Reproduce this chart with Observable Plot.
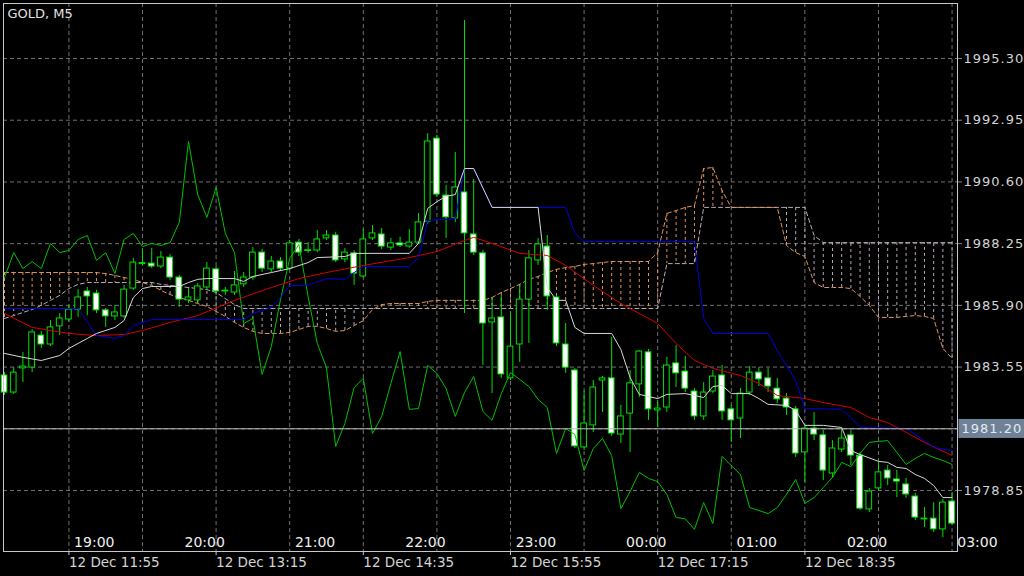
<!DOCTYPE html>
<html><head><meta charset="utf-8">
<script src="https://cdn.jsdelivr.net/npm/d3@7"></script>
<script src="https://cdn.jsdelivr.net/npm/@observablehq/plot@0.6"></script>
<style>
html,body{margin:0;padding:0;background:#000;}
g[aria-label="y-axis tick label"] text{letter-spacing:1px;}
</style>
</head><body><div id="chart"></div>
<script>
const title = "GOLD, M5";
const open = [1983.23,1982.58,1983.50,1983.53,1984.75,1984.41,1985.10,1985.36,1985.74,1986.43,1986.35,1985.71,1985.48,1985.48,1986.54,1987.47,1987.49,1987.38,1987.72,1986.96,1986.09,1986.09,1986.58,1987.27,1986.43,1986.39,1986.70,1986.96,1987.91,1987.27,1987.57,1987.30,1988.29,1987.97,1987.99,1988.45,1988.56,1987.65,1987.88,1987.00,1988.45,1988.60,1988.10,1988.26,1988.14,1988.29,1989.09,1992.25,1990.08,1989.21,1990.20,1988.60,1987.88,1985.25,1985.44,1983.12,1984.41,1986.12,1987.61,1988.14,1986.20,1984.41,1983.42,1980.49,1981.33,1983.04,1983.12,1980.98,1981.78,1982.89,1984.11,1981.90,1982.01,1983.69,1983.38,1982.62,1981.67,1982.62,1983.23,1981.94,1981.59,1982.58,1983.34,1983.12,1982.73,1982.35,1981.94,1980.30,1981.21,1980.95,1979.50,1980.41,1980.95,1980.18,1978.13,1978.93,1979.61,1979.27,1979.08,1978.62,1977.75,1977.78,1977.37,1978.43];
const high = [1983.34,1983.53,1984.11,1984.98,1984.91,1985.32,1985.59,1985.90,1986.50,1986.58,1986.47,1985.78,1985.90,1986.66,1987.69,1988.03,1988.07,1987.95,1987.84,1987.04,1986.54,1986.73,1987.53,1987.38,1986.58,1987.19,1987.15,1988.10,1988.03,1987.76,1987.72,1988.37,1988.41,1988.29,1988.75,1988.75,1988.68,1988.07,1987.99,1988.79,1988.94,1988.83,1988.45,1988.49,1988.79,1989.40,1992.44,1992.37,1990.47,1991.72,1996.75,1990.69,1987.99,1986.20,1986.28,1985.63,1986.66,1987.99,1988.45,1988.56,1986.28,1985.21,1983.50,1982.62,1983.04,1983.19,1984.68,1982.09,1983.42,1984.18,1984.22,1982.28,1983.92,1984.37,1983.95,1982.73,1982.96,1983.42,1983.61,1982.09,1982.73,1983.57,1983.53,1983.50,1983.12,1982.54,1982.05,1981.33,1981.82,1981.14,1980.75,1981.21,1981.14,1980.30,1978.93,1979.92,1979.80,1979.61,1979.31,1978.74,1978.20,1978.39,1978.51,1978.77];
const low = [1982.47,1982.51,1982.96,1983.34,1984.26,1984.33,1984.75,1985.25,1985.44,1985.51,1985.59,1985.06,1985.32,1985.40,1986.47,1987.42,1987.30,1987.30,1986.85,1985.82,1985.97,1985.97,1986.47,1986.28,1986.28,1986.28,1986.58,1986.85,1987.15,1987.15,1987.19,1987.23,1987.76,1987.88,1987.91,1988.37,1987.53,1987.53,1986.66,1986.92,1988.37,1988.03,1987.99,1988.10,1988.07,1988.22,1988.98,1990.01,1988.45,1989.06,1985.59,1987.80,1983.61,1982.54,1983.12,1983.04,1983.73,1984.45,1987.42,1985.71,1984.33,1983.31,1980.45,1980.37,1981.06,1981.82,1980.91,1980.64,1980.30,1982.39,1981.52,1981.25,1981.82,1982.77,1982.58,1981.52,1981.52,1982.54,1981.52,1980.68,1980.83,1982.47,1982.81,1982.58,1982.16,1981.71,1980.11,1979.16,1980.75,1979.23,1979.31,1980.30,1979.80,1978.09,1978.01,1978.85,1979.04,1978.58,1978.55,1977.71,1977.44,1977.25,1977.06,1977.52];
const close = [1982.58,1983.34,1983.57,1984.87,1984.41,1985.06,1985.40,1985.74,1986.20,1986.24,1985.71,1985.48,1985.63,1986.50,1987.53,1987.51,1987.38,1987.72,1986.96,1986.12,1986.20,1986.62,1987.30,1986.43,1986.45,1986.66,1986.96,1987.91,1987.30,1987.57,1987.30,1988.26,1987.91,1987.99,1988.41,1988.56,1987.61,1987.91,1987.11,1988.41,1988.64,1988.14,1988.26,1988.18,1988.29,1989.06,1992.14,1990.12,1989.25,1990.39,1988.64,1987.91,1985.21,1985.40,1983.27,1984.33,1986.12,1987.69,1988.22,1986.24,1984.45,1983.53,1980.53,1981.40,1982.77,1983.12,1981.02,1981.67,1982.93,1984.14,1981.94,1981.97,1983.61,1983.31,1982.73,1981.67,1982.58,1983.19,1981.86,1981.52,1982.54,1983.34,1983.08,1982.81,1982.32,1982.01,1980.26,1981.21,1980.98,1979.61,1980.45,1980.83,1980.18,1978.16,1978.81,1979.54,1979.31,1979.19,1978.70,1977.82,1977.77,1977.37,1978.39,1977.59];
// closes of the 26 bars after the visible window (end of the lagging span)
const chikouTail = [1980.15,1979.80,1979.46,1978.20,1978.09,1977.97,1978.20,1978.70,1979.27,1978.36,1978.58,1978.96,1979.35,1979.92,1979.76,1980.26,1980.68,1980.72,1980.75,1980.30,1979.84,1980.07,1980.26,1980.11,1979.99,1979.84];
const spanA = [1987.15,1987.15,1987.15,1987.15,1987.15,1987.15,1987.15,1987.15,1987.15,1987.15,1987.15,1987.11,1987.04,1986.96,1986.89,1986.77,1986.66,1986.47,1986.31,1986.20,1986.09,1985.97,1985.86,1985.67,1985.48,1985.25,1985.06,1984.91,1984.83,1984.83,1984.83,1984.87,1984.98,1985.10,1985.10,1985.02,1984.91,1984.94,1985.13,1985.32,1985.74,1985.93,1985.97,1985.97,1985.97,1985.97,1986.05,1986.09,1986.09,1986.09,1986.09,1986.09,1986.09,1986.20,1986.39,1986.54,1986.70,1986.89,1987.00,1987.15,1987.27,1987.34,1987.38,1987.46,1987.49,1987.53,1987.57,1987.57,1987.57,1987.57,1987.57,1987.91,1989.40,1989.51,1989.63,1989.70,1991.11,1991.15,1990.27,1989.63,1989.63,1989.63,1989.63,1989.63,1989.63,1988.18,1987.91,1987.76,1986.77,1986.58,1986.58,1986.58,1986.54,1986.24,1985.90,1985.44,1985.44,1985.44,1985.48,1985.51,1985.48,1985.40,1984.26,1983.88];
const spanB = [1985.40,1985.51,1985.63,1985.74,1985.90,1986.09,1986.28,1986.54,1986.70,1986.77,1986.77,1986.77,1986.77,1986.77,1986.77,1986.77,1986.77,1986.70,1986.66,1986.62,1986.58,1986.54,1986.50,1986.39,1986.16,1985.93,1985.78,1985.78,1985.78,1985.78,1985.78,1985.78,1985.78,1985.78,1985.78,1985.78,1985.78,1985.78,1985.78,1985.78,1985.78,1985.78,1985.78,1985.78,1985.78,1985.78,1985.78,1985.78,1985.78,1985.78,1985.78,1985.78,1985.78,1985.78,1985.78,1985.78,1985.78,1985.78,1985.78,1985.78,1985.78,1985.78,1985.78,1985.78,1985.78,1985.78,1985.78,1985.78,1985.78,1985.78,1985.78,1985.78,1987.49,1987.49,1987.49,1987.49,1989.63,1989.63,1989.63,1989.63,1989.63,1989.63,1989.63,1989.63,1989.63,1989.63,1989.63,1989.63,1988.56,1988.29,1988.29,1988.29,1988.29,1988.29,1988.29,1988.29,1988.29,1988.29,1988.29,1988.29,1988.29,1988.29,1988.29,1988.29];
const maBar = [0,3,7,10,13,15,18,21,25,29,32,35,39,44,47,50,51,53,56,59,61,64,67,71,73,75,77,80,82,84,87,89,92,94,96,98,100,103];
const maVal = [1985.59,1985.06,1984.83,1984.75,1984.79,1984.94,1985.25,1985.51,1986.09,1986.58,1986.92,1987.15,1987.42,1987.72,1987.95,1988.37,1988.49,1988.26,1987.88,1987.80,1987.42,1986.66,1985.97,1985.21,1984.45,1983.80,1983.50,1983.23,1982.93,1982.47,1982.35,1982.20,1982.01,1981.63,1981.44,1981.06,1980.68,1980.18];
const kijunBar = [0,8,10,12,13,14,16,26,27,29,30,31,33,35,37,38,39,44,45,46,49,50,51,53,61,62,63,75,76,77,83,84,86,87,91,92,93,98,100,101,103];
const kijunVal = [1985.78,1985.78,1984.75,1984.64,1984.75,1985.13,1985.36,1985.36,1985.59,1985.82,1986.20,1986.66,1986.66,1986.92,1986.89,1987.15,1987.38,1987.38,1987.72,1989.13,1989.21,1991.11,1991.11,1989.63,1989.63,1988.64,1988.33,1988.33,1985.40,1984.83,1984.83,1984.18,1983.04,1981.97,1981.94,1981.63,1981.25,1981.21,1980.75,1980.49,1980.37];
const tenkanBar = [0,2,4,6,7,9,10,12,13,14,15,16,19,20,21,22,25,26,27,29,31,33,34,37,38,44,45,46,47,48,49,50,51,53,58,59,60,61,62,63,66,67,68,69,71,72,74,75,76,77,78,79,81,82,83,85,86,87,89,91,92,93,95,96,97,98,99,100,101,102,103];
const tenkanVal = [1984.07,1983.92,1983.80,1983.99,1984.26,1984.64,1984.83,1985.06,1985.32,1986.20,1986.54,1986.62,1986.62,1986.77,1986.89,1986.92,1986.92,1986.81,1987.00,1987.15,1987.30,1987.53,1987.72,1987.76,1987.88,1987.88,1988.26,1989.59,1989.85,1990.05,1990.12,1991.11,1991.11,1989.63,1989.63,1986.58,1986.09,1986.09,1985.06,1984.83,1984.83,1984.22,1983.15,1982.51,1982.35,1982.51,1982.54,1982.47,1982.39,1982.81,1982.85,1982.54,1982.54,1982.35,1982.13,1982.09,1981.90,1981.33,1981.33,1981.25,1980.37,1980.22,1979.96,1979.92,1979.73,1979.69,1979.46,1979.31,1979.04,1978.58,1978.58];
const bid = 1981.20;
const priceTicks = [1978.85,1981.20,1983.55,1985.90,1988.25,1990.60,1992.95,1995.30];
const gridBars = [7,15,23,31,39,47,55,63,71,79,87,95,103];
const dateBars = [7,23,39,55,71,87];
const dateLabels = ["12 Dec 11:55","12 Dec 13:15","12 Dec 14:35","12 Dec 15:55","12 Dec 17:15","12 Dec 18:35"];
const hourBars = [8,20,32,44,56,68,80,92,104];
const hourLabels = ["19:00","20:00","21:00","22:00","23:00","00:00","01:00","02:00","03:00"];

const idx = d3.range(close.length);
const candles = idx.map(i => ({i, o: open[i], h: high[i], l: low[i], c: close[i]}));
const chikou = idx.map(i => i + 26 < close.length ? close[i + 26] : chikouTail[i + 26 - close.length]);
const dateMap = new Map(dateBars.map((b, k) => [b, dateLabels[k]]));

const GREEN = "#00e000", LAG = "#00c000", BROWN = "#e0955a", THISTLE = "#b9aab9";
const half = 0.31;

const plot = Plot.plot({
  width: 1024, height: 576,
  marginLeft: 3, marginTop: 3, marginRight: 67, marginBottom: 25,
  x: {type: "linear", domain: [-0.11, 103.59], label: null},
  y: {domain: [1976.527, 1997.395], label: null},
  style: {background: "#000", color: "#d4d4d4", fontFamily: "DejaVu Sans", fontSize: "13px"},
  marks: [
    Plot.gridY(priceTicks, {stroke: "#707070", strokeOpacity: 1, strokeDasharray: "4,3"}),
    Plot.gridX(gridBars, {stroke: "#707070", strokeOpacity: 1, strokeDasharray: "4,3"}),
    Plot.ruleX(idx.filter(i => spanA[i] >= spanB[i]), {x: d => d, y1: d => spanA[d], y2: d => spanB[d], stroke: BROWN, strokeDasharray: "3,3"}),
    Plot.ruleX(idx.filter(i => spanA[i] < spanB[i]), {x: d => d, y1: d => spanA[d], y2: d => spanB[d], stroke: THISTLE, strokeDasharray: "3,3"}),
    Plot.line(idx, {x: d => d, y: d => spanB[d], stroke: THISTLE, strokeWidth: 1, strokeDasharray: "4,3"}),
    Plot.line(idx, {x: d => d, y: d => spanA[d], stroke: BROWN, strokeWidth: 1, strokeDasharray: "4,3"}),
    Plot.ruleX(candles, {x: "i", y1: "l", y2: "h", stroke: GREEN}),
    Plot.rect(candles, {x1: d => d.i - half, x2: d => d.i + half,
      y1: d => Math.min(d.o, d.c), y2: d => Math.max(Math.max(d.o, d.c), Math.min(d.o, d.c) + 0.03),
      fill: d => d.c < d.o ? "#ffffff" : "#000000", stroke: GREEN, strokeWidth: 1}),
    Plot.line(idx, {x: d => d, y: d => chikou[d], stroke: LAG, strokeWidth: 1}),
    Plot.line(maBar, {x: d => d, y: (d, k) => maVal[k], stroke: "#d40000", strokeWidth: 1}),
    Plot.line(kijunBar, {x: d => d, y: (d, k) => kijunVal[k], stroke: "#0000e0", strokeWidth: 1}),
    Plot.line(tenkanBar, {x: d => d, y: (d, k) => tenkanVal[k], stroke: "#d8d8d8", strokeWidth: 1}),
    Plot.ruleY([bid], {stroke: "#bcbcbc", strokeWidth: 1}),
    Plot.frame({stroke: "#c8c8c8"}),
    Plot.axisY({anchor: "right", label: null, ticks: priceTicks.filter(t => t !== bid), tickFormat: d => d.toFixed(2), tickSize: 4, tickPadding: 2, stroke: "#808080", fill: "#d4d4d4", fontSize: 13}),
    Plot.axisX({anchor: "bottom", label: null, ticks: dateBars, tickFormat: d => dateMap.get(d), tickSize: 4, tickPadding: 2, textAnchor: "start", stroke: "#c8c8c8", fill: "#d4d4d4", fontSize: 13.5}),
    Plot.text(hourBars, {x: d => d, text: (d, k) => hourLabels[k], frameAnchor: "bottom", lineAnchor: "bottom", textAnchor: "start", dx: -4, dy: -5, fill: "#f0f0f0", fontSize: 14}),
    Plot.text([title], {text: d => d, frameAnchor: "top-left", lineAnchor: "top", textAnchor: "start", dx: 4, dy: 5, fill: "#e0e0e0", fontSize: 13}),
    Plot.text([bid], {y: d => d, text: d => d.toFixed(2), frameAnchor: "right", textAnchor: "start", dx: 4, fill: "#e4eaf0", fontSize: 13})
  ]
});
document.getElementById("chart").appendChild(plot);

// background box behind the bid price label
const bidLabel = bid.toFixed(2);
d3.select(plot).selectAll("text").filter(function() { return this.textContent === bidLabel; }).each(function() {
  this.setAttribute("letter-spacing", "1px");
  const bb = this.getBBox();
  const r = document.createElementNS("http://www.w3.org/2000/svg", "rect");
  r.setAttribute("x", bb.x - 3); r.setAttribute("y", bb.y - 2);
  r.setAttribute("width", bb.width + 6); r.setAttribute("height", bb.height + 4);
  r.setAttribute("fill", "#6f8196");
  const t = this.getAttribute("transform");
  if (t) r.setAttribute("transform", t);
  this.parentNode.insertBefore(r, this);
});
</script>
</body></html>
